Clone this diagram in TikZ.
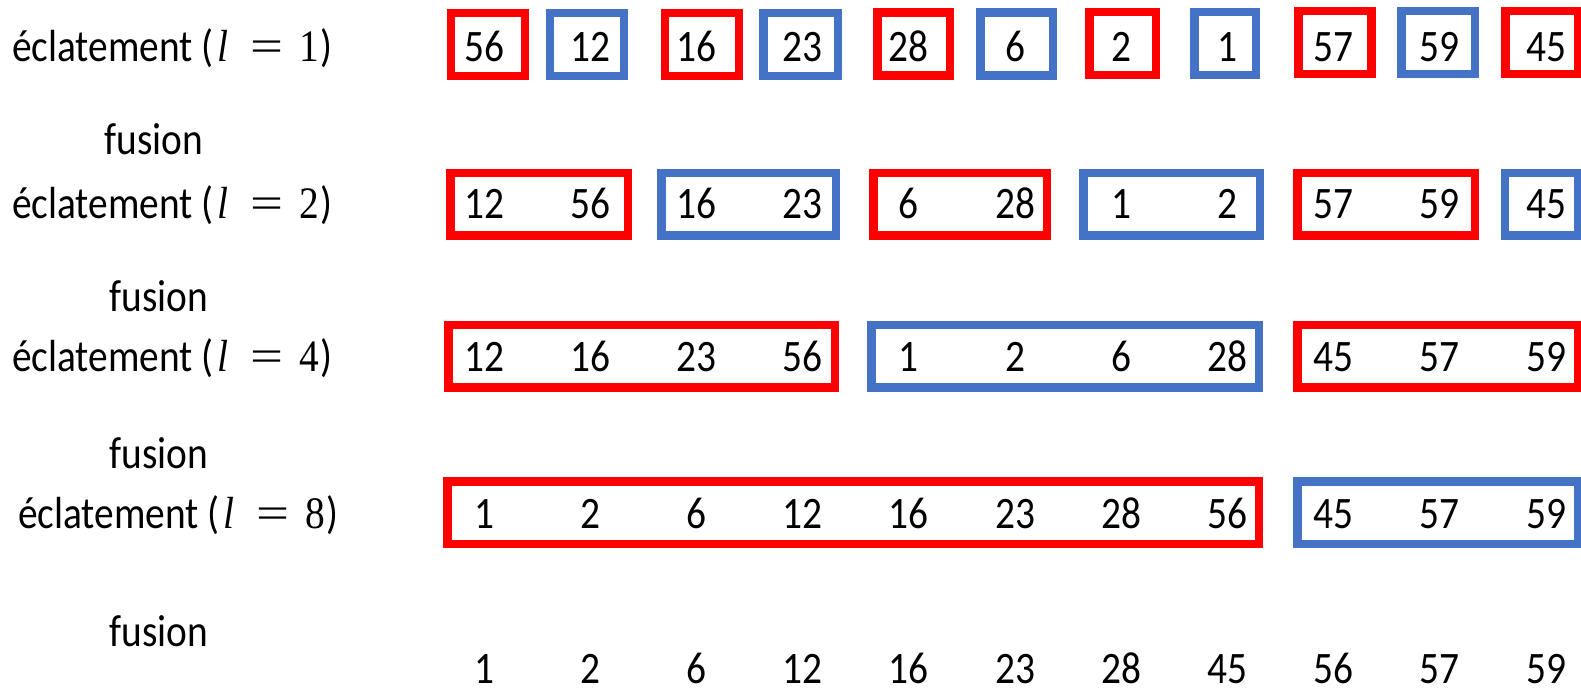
\documentclass[tikz,border=0pt]{standalone}
\usepackage{fontspec}
\newfontfamily\cf[FakeStretch=0.875]{Carlito}
\newfontfamily\sr[FakeStretch=0.875]{Liberation Serif}
\newfontfamily\eqf[FakeStretch=1.3]{Liberation Serif}
\definecolor{myred}{HTML}{FF0000}
\definecolor{myblue}{HTML}{4472C4}
\newcommand\lbl[1]{éclatement (\hspace{4pt}{\sr\itshape l}\hspace{22pt}{\eqf =}\hspace{16pt}{\sr #1}\hspace{1pt})}
\tikzset{
  bx/.style={line width=8.5pt, inner sep=0pt, minimum height=62.5pt, rectangle},
  rb/.style={bx, draw=myred},
  bb/.style={bx, draw=myblue},
  num/.style={font=\cf\fontsize{45}{54}\selectfont, anchor=base, inner sep=0pt},
  lab/.style={font=\cf\fontsize{45}{54}\selectfont, anchor=base west, inner sep=0pt},
  fus/.style={font=\cf\fontsize{45}{54}\selectfont, anchor=base, inner sep=0pt},
}
\begin{document}
\begin{tikzpicture}[x=1pt,y=-1pt]
\useasboundingbox (0,0) rectangle (1581,693);
% labels
\node[lab] (L1) at (12,61) {\lbl{1}};
\node[fus] (F1) at (154,154.5) {fusion};
\node[lab] (L2) at (12,218.5) {\lbl{2}};
\node[fus] (F2) at (159,311.5) {fusion};
\node[lab] (L3) at (12,371.5) {\lbl{4}};
\node[fus] (F3) at (159,468) {fusion};
\node[lab] (L4) at (18,528.5) {\lbl{8}};
\node[fus] (F4) at (159,646) {fusion};
% row 1 boxes
\node[rb, minimum width=74.1pt] (a1) at (488,44.5) {};
\node[bb, minimum width=74.1pt] (a2) at (587,44.5) {};
\node[rb, minimum width=74pt] (a3) at (701.75,44.5) {};
\node[bb, minimum width=74.5pt] (a4) at (800.5,44.5) {};
\node[rb, minimum width=72.5pt] (a5) at (913.5,44) {};
\node[bb, minimum width=72.5pt] (a6) at (1016.5,44) {};
\node[rb, minimum width=66.5pt] (a7) at (1122.5,43.5) {};
\node[bb, minimum width=61.5pt] (a8) at (1225,43.5) {};
\node[rb, minimum width=73pt] (a9) at (1334.75,42.5) {};
\node[bb, minimum width=73.5pt] (a10) at (1438,42.5) {};
\node[rb, minimum width=72.5pt] (a11) at (1541.5,42.5) {};
% row 1 numbers
\foreach \v [count=\i from 0] in {56,12,16,23,28,6,2,1,57,59,45}
  \node[num] (n1-\i) at (484+106.2*\i,61.5) {\v};
% row 2 boxes
\node[rb, minimum width=177.5pt] (b1) at (539,204) {};
\node[bb, minimum width=174.5pt] (b2) at (748.5,204) {};
\node[rb, minimum width=173.5pt] (b3) at (960,204) {};
\node[bb, minimum width=176.5pt] (b4) at (1171.5,204) {};
\node[rb, minimum width=177.5pt] (b5) at (1386,204) {};
\node[bb, minimum width=73pt] (b6) at (1541.25,204) {};
\foreach \v [count=\i from 0] in {12,56,16,23,6,28,1,2,57,59,45}
  \node[num] (n2-\i) at (484+106.2*\i,218.5) {\v};
% row 3 boxes
\node[rb, minimum width=386.2pt] (c1) at (641.65,356.2) {};
\node[bb, minimum width=387.5pt] (c2) at (1065,356.2) {};
\node[rb, minimum width=280.5pt] (c3) at (1437.5,356.2) {};
\foreach \v [count=\i from 0] in {12,16,23,56,1,2,6,28,45,57,59}
  \node[num] (n3-\i) at (484+106.2*\i,371.5) {\v};
% row 4 boxes
\node[rb, minimum width=811.2pt] (d1) at (853.15,512.5) {};
\node[bb, minimum width=280.5pt] (d2) at (1437.5,512.5) {};
\foreach \v [count=\i from 0] in {1,2,6,12,16,23,28,56,45,57,59}
  \node[num] (n4-\i) at (484+106.2*\i,528.3) {\v};
% row 5
\foreach \v [count=\i from 0] in {1,2,6,12,16,23,28,45,56,57,59}
  \node[num] (n5-\i) at (484+106.2*\i,683) {\v};
\end{tikzpicture}
\end{document}
